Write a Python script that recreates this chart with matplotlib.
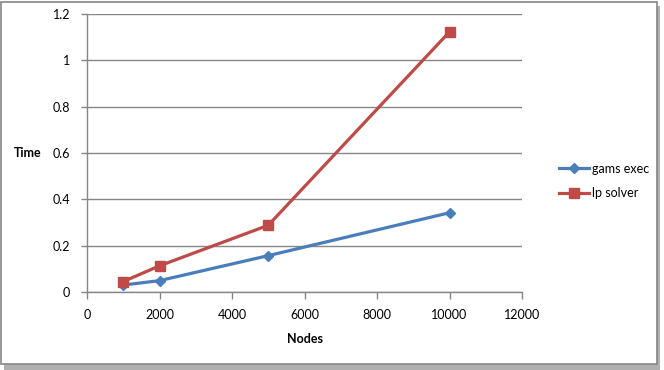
import matplotlib
matplotlib.use("Agg")
import matplotlib.pyplot as plt
from matplotlib.patches import Rectangle

# values
nodes = [1000, 2000, 5000, 10000]
gams_exec = [0.030, 0.049, 0.157, 0.342]
lp_solver = [0.045, 0.113, 0.288, 1.123]

x_ticks = [0, 2000, 4000, 6000, 8000, 10000, 12000]
y_ticks = [0, 0.2, 0.4, 0.6, 0.8, 1.0, 1.2]
y_labels = ["0", "0.2", "0.4", "0.6", "0.8", "1", "1.2"]

blue = "#4A7EBB"
red = "#BE4B48"
grey = "#868686"

plt.rcParams['font.family'] = ['Lato', 'DejaVu Sans']

W, H = 664, 370
fig = plt.figure(figsize=(W / 100, H / 100), dpi=100)

# chart frame with a small drop shadow
fig.patches.append(Rectangle((4 / W, 0), 656 / W, 364 / H, transform=fig.transFigure,
                             facecolor="#b0b0b0", edgecolor="none", zorder=-3))
fig.patches.append(Rectangle((1 / W, 6 / H), 656 / W, 362 / H, transform=fig.transFigure,
                             facecolor="white", edgecolor=grey, linewidth=1.2, zorder=-2))

ax = fig.add_axes([87 / W, (H - 292) / H, (522 - 87) / W, (292 - 14) / H])
ax.set_facecolor("none")

ax.plot(nodes, gams_exec, color=blue, lw=2.3, marker="D", ms=5.5,
        label="gams exec", zorder=3)
ax.plot(nodes, lp_solver, color=red, lw=2.3, marker="s", ms=7,
        label="lp solver", zorder=4)

ax.set_xlim(0, 12000)
ax.set_ylim(0, 1.2)
ax.set_xticks(x_ticks)
ax.set_yticks(y_ticks)
ax.set_yticklabels(y_labels)
ax.grid(axis="y", color=grey, lw=1)
ax.set_axisbelow(True)

for side in ["top", "right"]:
    ax.spines[side].set_visible(False)
for side in ["left", "bottom"]:
    ax.spines[side].set_color(grey)
    ax.spines[side].set_linewidth(1)

ax.tick_params(axis="both", colors=grey, labelcolor="black", labelsize=9, width=1)
ax.tick_params(axis="x", length=5, pad=7)
ax.tick_params(axis="y", length=4, pad=8)

ax.set_xlabel("Nodes", fontsize=9, fontweight="bold", labelpad=9)
ax.set_ylabel("Time", fontsize=9, fontweight="bold", rotation=0, labelpad=18, va="center")

ax.legend(loc="center left", bbox_to_anchor=(1.06, 0.40), frameon=False, fontsize=9,
          handlelength=2.4, labelspacing=1.0, handletextpad=0.2)

fig.savefig("out.png", dpi=100)
